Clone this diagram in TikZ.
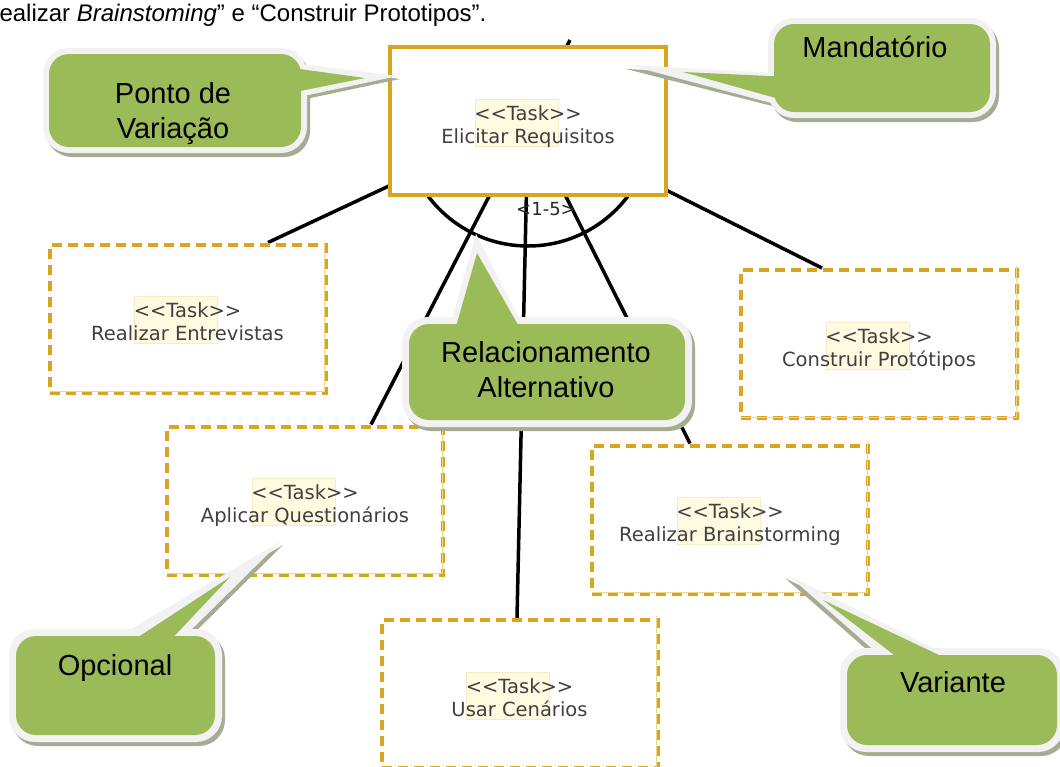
\documentclass[tikz,border=0pt]{standalone}
\usepackage{fontspec}
\setmainfont{Liberation Sans}
\newfontfamily\taskfont{DejaVu Sans}
\usetikzlibrary{calc}
\definecolor{gold}{HTML}{D9A520}
\definecolor{goldlight}{HTML}{F0D68C}
\definecolor{cgreen}{HTML}{9BBB59}
\definecolor{cborderc}{HTML}{F2F2F2}
\definecolor{cshadowc}{HTML}{A4AC92}
\definecolor{hlc}{HTML}{FFFAE0}
\definecolor{tgray}{HTML}{404040}
\pgfdeclarelayer{paper}
\pgfdeclarelayer{bg}
\pgfsetlayers{paper,bg,main}
\tikzset{
  taskbox/.style={rectangle, draw=gold, fill=white, line width=4pt,
    minimum width=276pt, minimum height=148pt, inner sep=0pt},
  optbox/.style={taskbox, dash pattern=on 10pt off 6pt},
  hlbox/.style={fill=hlc, draw=goldlight!50, line width=0.6pt},
  tasktext/.style={font=\taskfont\fontsize{19.5}{23}\selectfont, text=tgray, inner sep=0pt, anchor=base},
  conn/.style={line width=3.5pt, black},
  ctext/.style={font=\fontsize{29}{35}\selectfont, text=black, inner sep=0pt, anchor=base},
  cshadow/.style={fill=cshadowc},
  cborder/.style={fill=cborderc},
  cbody/.style={fill=cgreen},
}
\newcommand\MyTask[5]{%
  \node[#4] (#1) at (#2,#3) {};
  \filldraw[hlbox] ($(#1.center)+(-53,-22)$) rectangle ($(#1.center)+(30,25)$);
  \node[tasktext] (#1-a) at ($(#1.center)+(0,-1)$) {<\kern0pt<Task>\kern0pt>};
  \node[tasktext] (#1-b) at ($(#1.center)+(0,22)$) {#5};
}
\newcommand\MyShade[1]{%
  \draw[goldlight, line width=1pt] ([xshift=-3pt,yshift=2pt]#1.north east) -- ([xshift=-3pt,yshift=3pt]#1.south east) -- ([xshift=2pt,yshift=3pt]#1.south west);
}
\begin{document}
\begin{tikzpicture}[x=1pt, y=-1pt]
\useasboundingbox (0,0) rectangle (1060,766);
\begin{pgfonlayer}{paper}
  \fill[white] (0,0) rectangle (1060,766);
\end{pgfonlayer}
\clip (0,0) rectangle (1060,766);

% document text above the figure
\node[anchor=base west, inner sep=0pt, font=\fontsize{24}{28}\selectfont] (toptext) at (-18,21)
  {Realizar \textit{Brainstoming}” e “Construir Prototipos”.};

% task boxes
\MyTask{main}{528}{121}{taskbox}{Elicitar Requisitos}
\MyTask{ent}{187.5}{318.5}{optbox}{Realizar Entrevistas}
\MyTask{con}{879}{344}{optbox}{Construir Protótipos}
\MyTask{apl}{305}{500.5}{optbox}{Aplicar Questionários}
\MyTask{bra}{730}{519.5}{optbox}{Realizar Brainstorming}
\MyTask{usa}{519.5}{694}{optbox}{Usar Cenários}
\MyShade{ent}
\MyShade{con}
\MyShade{apl}
\MyShade{bra}
\MyShade{usa}

% connectors behind the boxes
\coordinate (stub) at (570,40);
\begin{pgfonlayer}{bg}
  \draw[conn] (main.center) -- ([xshift=80.5pt]ent.north);
  \draw[conn] (main.center) -- ([xshift=66pt]apl.north);
  \draw[conn] (main.center) -- ([xshift=-2.5pt]usa.north);
  \draw[conn] (main.center) -- ([xshift=-40pt]bra.north);
  \draw[conn] (main.center) -- ([xshift=-57pt]con.north);
  \draw[conn] (main.center) -- (stub);
  \begin{scope}
    \clip (main.south west) rectangle ([yshift=-200pt]main.south east);
    \draw[conn] (main.center) circle[radius=125];
  \end{scope}
\end{pgfonlayer}

\node[font=\taskfont\fontsize{18}{20}\selectfont, text=black!85, inner sep=0pt, anchor=base] (card) at (546,215) {<1-5>};

% Callout: Ponto de Variacao
\fill[cshadow, shift={(3,4)}, rounded corners=26] (43,48) rectangle (307,153);
\fill[cshadow, shift={(2,3)}] (285,62) -- (398,76) -- (285,100) -- cycle;
\fill[cborder, rounded corners=26] (43,48) rectangle (307,153);
\fill[cborder] (285,62) -- (398,76) -- (285,100) -- cycle;
\fill[cbody, rounded corners=20] (49,54) rectangle (301,147);
\fill[cbody] (285,67) -- (365,78) -- (285,94) -- cycle;
\node[ctext] (ponto1) at (173,103) {Ponto de};
\node[ctext] (ponto2) at (173,138) {Variação};

% Callout: Mandatorio
\fill[cshadow, shift={(3,4)}, rounded corners=26] (768,18) rectangle (996,118);
\fill[cshadow, shift={(2,3)}] (790,74) -- (624,66) -- (790,108) -- cycle;
\fill[cborder, rounded corners=26] (768,18) rectangle (996,118);
\fill[cborder] (790,74) -- (628,65) -- (790,108) -- cycle;
\fill[cbody, rounded corners=20] (774,24) rectangle (990,112);
\fill[cbody] (790,77) -- (683,72) -- (790,102) -- cycle;
\node[ctext] (mand) at (875,57) {Mandatório};

% Callout: Relacionamento Alternativo
\fill[cshadow, shift={(3,4)}, rounded corners=26] (402,317) rectangle (692,427);
\fill[cborder, rounded corners=26] (402,317) rectangle (692,427);
\fill[cborder] (449,330) -- (476,234) -- (525,330) -- cycle;
\fill[cbody, rounded corners=20] (409,324) rectangle (685,420);
\fill[cbody] (455,330) -- (477,253) -- (521,330) -- cycle;
\node[ctext] (rel1) at (546,362) {Relacionamento};
\node[ctext] (rel2) at (546,397) {Alternativo};

% Callout: Opcional
\fill[cshadow, shift={(3,4)}, rounded corners=26] (9,629) rectangle (222,742);
\fill[cshadow, shift={(3,3)}] (112,640) -- (280,542) -- (181,640) -- cycle;
\fill[cborder, rounded corners=26] (9,629) rectangle (222,742);
\fill[cborder] (112,640) -- (280,542) -- (181,640) -- cycle;
\fill[cbody, rounded corners=20] (16,636) rectangle (215,735);
\fill[cbody] (126,645) -- (230,577) -- (166,645) -- cycle;
\node[ctext] (opc) at (115,675) {Opcional};

% Callout: Variante
\fill[cshadow, shift={(3,4)}, rounded corners=26] (840,648) rectangle (1064,752);
\fill[cshadow, shift={(-3,3)}] (885,660) -- (788,575) -- (957,660) -- cycle;
\fill[cborder, rounded corners=26] (840,648) rectangle (1064,752);
\fill[cborder] (885,660) -- (788,575) -- (957,660) -- cycle;
\fill[cbody, rounded corners=20] (847,655) rectangle (1057,745);
\fill[cbody] (907,665) -- (823,600) -- (960,665) -- cycle;
\node[ctext] (var) at (953,692) {Variante};
\end{tikzpicture}
\end{document}
